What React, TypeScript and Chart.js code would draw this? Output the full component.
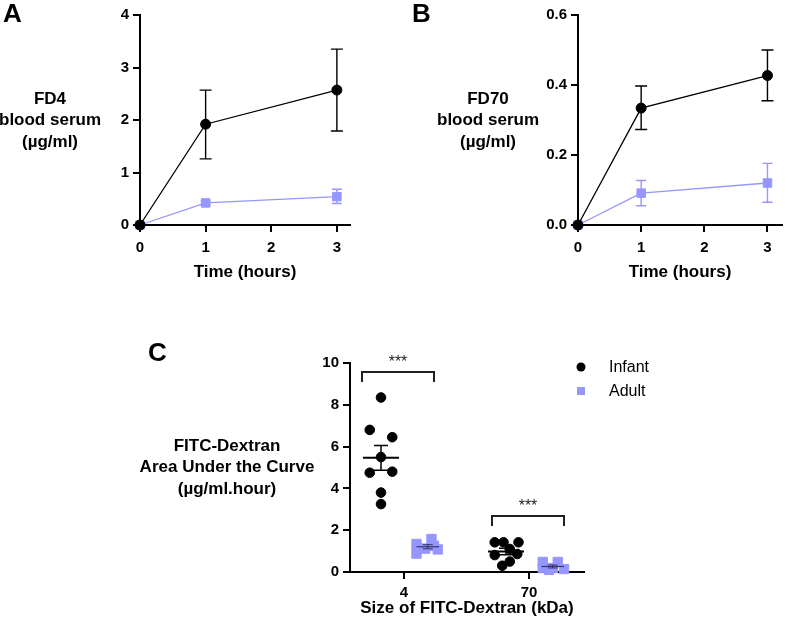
import React, { useEffect, useRef } from "react";
import { Chart, registerables } from "chart.js";

Chart.register(...registerables);

const FONT = "'Liberation Sans', Arial, Helvetica, sans-serif";
const INK = "#000000";
const PURPLE = "rgb(150,150,255)";
const PAGE_W = 789;
const PAGE_H = 628;

// ---------- Panel A: FD4 ----------
const timeHours = [0, 1, 3];
const timeTicks = [0, 1, 2, 3];
const fd4Ticks = [0, 1, 2, 3, 4];
const fd4Infant = [0, 1.92, 2.57];
const fd4InfantLo = [0, 1.26, 1.79];
const fd4InfantHi = [0, 2.57, 3.35];
const fd4Adult = [0, 0.42, 0.54];
const fd4AdultLo = [0, 0.38, 0.41];
const fd4AdultHi = [0, 0.46, 0.68];

// ---------- Panel B: FD70 ----------
const fd70Ticks = [0, 0.2, 0.4, 0.6];
const fd70Infant = [0, 0.334, 0.427];
const fd70InfantLo = [0, 0.273, 0.355];
const fd70InfantHi = [0, 0.397, 0.5];
const fd70Adult = [0, 0.091, 0.12];
const fd70AdultLo = [0, 0.055, 0.065];
const fd70AdultHi = [0, 0.127, 0.176];

// ---------- Panel C: AUC ----------
const sizeLabels = ["4", "70"];
const sizePositions = [1, 2];
const aucTicks = [0, 2, 4, 6, 8, 10];
const infant4 = [8.35, 6.8, 6.45, 5.5, 4.75, 4.8, 3.8, 3.25];
const infant4Jitter = [0, -0.09, 0.09, 0, -0.09, 0.09, 0, 0];
const adult4 = [1.34, 0.88, 1.58, 1.12, 1.08, 1.25];
const adult4Jitter = [-0.09, -0.09, 0.03, -0.02, 0.08, 0.05];
const infant70 = [1.42, 1.42, 1.42, 1.1, 0.81, 0.86, 0.5, 0.3];
const infant70Jitter = [-0.09, -0.02, 0.1, 0.03, -0.09, 0.09, 0.03, -0.03];
const adult70 = [0.48, 0.48, 0.19, 0.19, 0.14, 0.1];
const adult70Jitter = [-0.08, 0.04, -0.08, 0, 0.09, -0.03];
const bracketFrom = [0.664, 1.704];
const bracketTo = [1.24, 2.28];
const bracketTop = [9.57, 2.68];
const bracketFoot = [9.09, 2.2];
const bracketText = ["***", "***"];
const legendLabels = ["Infant", "Adult"];

const INFANT_OFFSET = -0.184;
const ADULT_OFFSET = 0.19;
const Y_AXIS_W = 60;
const X_AXIS_H = 60;

function meanSem(v: number[]) {
  const n = v.length;
  const m = v.reduce((a, b) => a + b, 0) / n;
  const sd = Math.sqrt(v.reduce((a, b) => a + (b - m) * (b - m), 0) / (n - 1));
  return { m, sem: sd / Math.sqrt(n) };
}

function tickFont() {
  return { family: FONT, size: 15, weight: "bold" as const };
}

function makeScale(min: number, max: number, ticks: number[], fmt: (v: number) => string, vertical: boolean, pad: number) {
  return {
    type: "linear" as const,
    min,
    max,
    afterBuildTicks: (s: any) => {
      s.ticks = ticks.map((v) => ({ value: v }));
    },
    afterFit: (s: any) => {
      if (vertical) s.width = Y_AXIS_W;
      else s.height = X_AXIS_H;
    },
    grid: { display: true, drawOnChartArea: false, drawTicks: true, tickLength: 7, color: INK, lineWidth: 2 },
    border: { display: true, color: INK, width: 2 },
    ticks: {
      color: INK,
      font: tickFont(),
      padding: pad,
      autoSkip: false,
      maxRotation: 0,
      callback: (v: any) => fmt(Number(v)),
    },
  };
}

function drawLetter(ctx: CanvasRenderingContext2D, t: string, x: number, y: number) {
  ctx.save();
  ctx.fillStyle = INK;
  ctx.font = `bold 26px ${FONT}`;
  ctx.textAlign = "left";
  ctx.textBaseline = "alphabetic";
  ctx.fillText(t, x, y);
  ctx.restore();
}

function drawTitles(chart: any, yLines: string[], yOffsetX: number, xTitle: string, xTitleDy: number) {
  const { ctx, chartArea } = chart;
  ctx.save();
  ctx.fillStyle = INK;
  ctx.font = `bold 17px ${FONT}`;
  ctx.textAlign = "center";
  ctx.textBaseline = "middle";
  const mid = (chartArea.top + chartArea.bottom) / 2;
  const offs = [-21, 0, 22];
  yLines.forEach((l, i) => ctx.fillText(l, chartArea.left - yOffsetX, mid + offs[i]));
  ctx.fillText(xTitle, (chartArea.left + chartArea.right) / 2, chartArea.bottom + xTitleDy);
  ctx.restore();
}

type ErrSeries = { lo: number[]; hi: number[]; color: string; cap: number };

function linePanel(
  canvas: HTMLCanvasElement,
  area: { left: number; right: number; top: number; bottom: number },
  yMax: number,
  xMax: number,
  yTicks: number[],
  yFmt: (v: number) => string,
  infant: number[],
  adult: number[],
  errs: ErrSeries[],
  yTitle: string[],
  letter: string,
  letterPos: [number, number]
) {
  const plugin = {
    id: "panelDecor",
    beforeDatasetsDraw(chart: any) {
      const { ctx, scales } = chart;
      const x = scales.x, y = scales.y;
      ctx.save();
      ctx.lineWidth = 1.4;
      for (const s of errs) {
        ctx.strokeStyle = s.color;
        timeHours.forEach((xv, i) => {
          if (s.hi[i] === s.lo[i]) return;
          const px = x.getPixelForValue(xv);
          const top = y.getPixelForValue(s.hi[i]);
          const bot = y.getPixelForValue(s.lo[i]);
          ctx.beginPath();
          ctx.moveTo(px, top);
          ctx.lineTo(px, bot);
          ctx.moveTo(px - s.cap, top);
          ctx.lineTo(px + s.cap, top);
          ctx.moveTo(px - s.cap, bot);
          ctx.lineTo(px + s.cap, bot);
          ctx.stroke();
        });
      }
      ctx.restore();
    },
    afterDraw(chart: any) {
      drawTitles(chart, yTitle, 90, "Time (hours)", 47);
      drawLetter(chart.ctx, letter, letterPos[0], letterPos[1]);
    },
  };
  return new Chart(canvas, {
    type: "scatter",
    data: {
      datasets: [
        {
          label: "Infant",
          data: timeHours.map((t, i) => ({ x: t, y: infant[i] })),
          showLine: true,
          borderColor: INK,
          borderWidth: 1.3,
          pointStyle: "circle",
          pointRadius: 5,
          pointBackgroundColor: INK,
          pointBorderColor: INK,
          pointBorderWidth: 1,
          clip: false,
        } as any,
        {
          label: "Adult",
          data: timeHours.map((t, i) => ({ x: t, y: adult[i] })),
          showLine: true,
          borderColor: PURPLE,
          borderWidth: 1.3,
          pointStyle: "rect",
          pointRadius: 6,
          pointBackgroundColor: PURPLE,
          pointBorderColor: PURPLE,
          pointBorderWidth: 1,
          clip: false,
        } as any,
      ],
    },
    options: {
      responsive: false,
      animation: false,
      devicePixelRatio: 1,
      events: [],
      layout: {
        padding: {
          left: area.left - Y_AXIS_W,
          right: PAGE_W - area.right,
          top: area.top,
          bottom: PAGE_H - area.bottom - X_AXIS_H,
        },
      },
      plugins: { legend: { display: false }, tooltip: { enabled: false } },
      scales: {
        x: makeScale(0, xMax, timeTicks, (v) => String(v), false, 7) as any,
        y: makeScale(0, yMax, yTicks, yFmt, true, 4) as any,
      },
    },
    plugins: [plugin],
  });
}

function aucPanel(canvas: HTMLCanvasElement) {
  const area = { left: 350, right: 584, top: 363, bottom: 572 };
  const groups = [
    { vals: infant4, jit: infant4Jitter, c: sizePositions[0] + INFANT_OFFSET, infant: true },
    { vals: infant70, jit: infant70Jitter, c: sizePositions[1] + INFANT_OFFSET, infant: true },
    { vals: adult4, jit: adult4Jitter, c: sizePositions[0] + ADULT_OFFSET, infant: false },
    { vals: adult70, jit: adult70Jitter, c: sizePositions[1] + ADULT_OFFSET, infant: false },
  ];
  const mkPts = (g: any) => g.vals.map((v: number, i: number) => ({ x: g.c + g.jit[i], y: v }));
  const plugin = {
    id: "aucDecor",
    afterDatasetsDraw(chart: any) {
      const { ctx, scales, chartArea } = chart;
      const x = scales.x, y = scales.y;
      ctx.save();
      // mean +/- SEM
      for (const g of groups) {
        const { m, sem } = meanSem(g.vals);
        const half = g.infant ? 0.144 : 0.09;
        const cap = g.infant ? 0.056 : 0.04;
        ctx.strokeStyle = g.infant ? INK : "rgba(40,40,70,0.85)";
        ctx.lineWidth = g.infant ? 2 : 1.2;
        ctx.beginPath();
        ctx.moveTo(x.getPixelForValue(g.c - half), y.getPixelForValue(m));
        ctx.lineTo(x.getPixelForValue(g.c + half), y.getPixelForValue(m));
        ctx.stroke();
        ctx.lineWidth = g.infant ? 1.5 : 1;
        ctx.beginPath();
        const px = x.getPixelForValue(g.c);
        const t = y.getPixelForValue(m + sem), b = y.getPixelForValue(m - sem);
        ctx.moveTo(px, t);
        ctx.lineTo(px, b);
        ctx.moveTo(x.getPixelForValue(g.c - cap), t);
        ctx.lineTo(x.getPixelForValue(g.c + cap), t);
        ctx.moveTo(x.getPixelForValue(g.c - cap), b);
        ctx.lineTo(x.getPixelForValue(g.c + cap), b);
        ctx.stroke();
      }
      // significance brackets
      ctx.strokeStyle = "#222";
      ctx.lineWidth = 2;
      ctx.fillStyle = "#222";
      ctx.font = `16px ${FONT}`;
      ctx.textAlign = "center";
      ctx.textBaseline = "alphabetic";
      bracketFrom.forEach((f, i) => {
        const x0 = x.getPixelForValue(f), x1 = x.getPixelForValue(bracketTo[i]);
        const yt = y.getPixelForValue(bracketTop[i]), yf = y.getPixelForValue(bracketFoot[i]);
        ctx.beginPath();
        ctx.moveTo(x0, yf);
        ctx.lineTo(x0, yt);
        ctx.lineTo(x1, yt);
        ctx.lineTo(x1, yf);
        ctx.stroke();
        ctx.fillText(bracketText[i], (x0 + x1) / 2, yt - 5);
      });
      // legend
      const lx = chartArea.right - 3;
      ctx.fillStyle = INK;
      ctx.beginPath();
      ctx.arc(lx, chartArea.top + 4, 4.5, 0, Math.PI * 2);
      ctx.fill();
      ctx.fillStyle = PURPLE;
      ctx.fillRect(lx - 4, chartArea.top + 28 - 4, 8, 8);
      ctx.fillStyle = INK;
      ctx.font = `16px ${FONT}`;
      ctx.textAlign = "left";
      ctx.textBaseline = "middle";
      ctx.fillText(legendLabels[0], chartArea.right + 25, chartArea.top + 5);
      ctx.fillText(legendLabels[1], chartArea.right + 25, chartArea.top + 29);
      ctx.restore();
    },
    afterDraw(chart: any) {
      drawTitles(chart, ["FITC-Dextran", "Area Under the Curve", "(\u00B5g/ml.hour)"], 123, "Size of FITC-Dextran (kDa)", 36);
      drawLetter(chart.ctx, "C", 148, 361);
    },
  };
  const xMin = 1 - 54 / 125;
  const xMax = 2 + 55 / 125;
  return new Chart(canvas, {
    type: "scatter",
    data: {
      datasets: [
        {
          label: "Infant",
          data: [...mkPts(groups[0]), ...mkPts(groups[1])],
          pointStyle: "circle",
          pointRadius: 4.8,
          pointBackgroundColor: INK,
          pointBorderColor: INK,
          pointBorderWidth: 1,
          clip: false,
        } as any,
        {
          label: "Adult",
          data: [...mkPts(groups[2]), ...mkPts(groups[3])],
          pointStyle: "rect",
          pointRadius: 6.6,
          pointBackgroundColor: PURPLE,
          pointBorderColor: PURPLE,
          pointBorderWidth: 1,
          clip: false,
        } as any,
      ],
    },
    options: {
      responsive: false,
      animation: false,
      devicePixelRatio: 1,
      events: [],
      layout: {
        padding: {
          left: area.left - Y_AXIS_W,
          right: PAGE_W - area.right,
          top: area.top,
          bottom: PAGE_H - area.bottom - X_AXIS_H,
        },
      },
      plugins: { legend: { display: false }, tooltip: { enabled: false } },
      scales: {
        x: makeScale(xMin, xMax, sizePositions, (v) => sizeLabels[sizePositions.indexOf(v)] ?? "", false, 5) as any,
        y: makeScale(0, 10, aucTicks, (v) => String(v), true, 4) as any,
      },
    },
    plugins: [plugin],
  });
}

export default function App() {
  const aRef = useRef<HTMLCanvasElement>(null);
  const bRef = useRef<HTMLCanvasElement>(null);
  const cRef = useRef<HTMLCanvasElement>(null);

  useEffect(() => {
    Chart.defaults.font.family = FONT;
    const charts: Chart[] = [];
    charts.push(
      linePanel(
        aRef.current!,
        { left: 140, right: 350, top: 15, bottom: 225 },
        4,
        3.2,
        fd4Ticks,
        (v) => String(v),
        fd4Infant,
        fd4Adult,
        [
          { lo: fd4AdultLo, hi: fd4AdultHi, color: PURPLE, cap: 5 },
          { lo: fd4InfantLo, hi: fd4InfantHi, color: INK, cap: 6 },
        ],
        ["FD4", "blood serum", "(\u00B5g/ml)"],
        "A",
        [3, 22]
      )
    );
    charts.push(
      linePanel(
        bRef.current!,
        { left: 578, right: 789, top: 15, bottom: 225 },
        0.6,
        3.23,
        fd70Ticks,
        (v) => v.toFixed(1),
        fd70Infant,
        fd70Adult,
        [
          { lo: fd70AdultLo, hi: fd70AdultHi, color: PURPLE, cap: 5 },
          { lo: fd70InfantLo, hi: fd70InfantHi, color: INK, cap: 6 },
        ],
        ["FD70", "blood serum", "(\u00B5g/ml)"],
        "B",
        [412, 22]
      )
    );
    charts.push(aucPanel(cRef.current!));
    return () => charts.forEach((c) => c.destroy());
  }, []);

  const cs: React.CSSProperties = { position: "absolute", left: 0, top: 0 };
  return (
    <div
      style={{
        position: "fixed",
        left: 0,
        top: 0,
        width: PAGE_W,
        height: PAGE_H,
        background: "#ffffff",
        overflow: "hidden",
      }}
    >
      <canvas ref={aRef} width={PAGE_W} height={PAGE_H} style={cs} />
      <canvas ref={bRef} width={PAGE_W} height={PAGE_H} style={cs} />
      <canvas ref={cRef} width={PAGE_W} height={PAGE_H} style={cs} />
    </div>
  );
}
